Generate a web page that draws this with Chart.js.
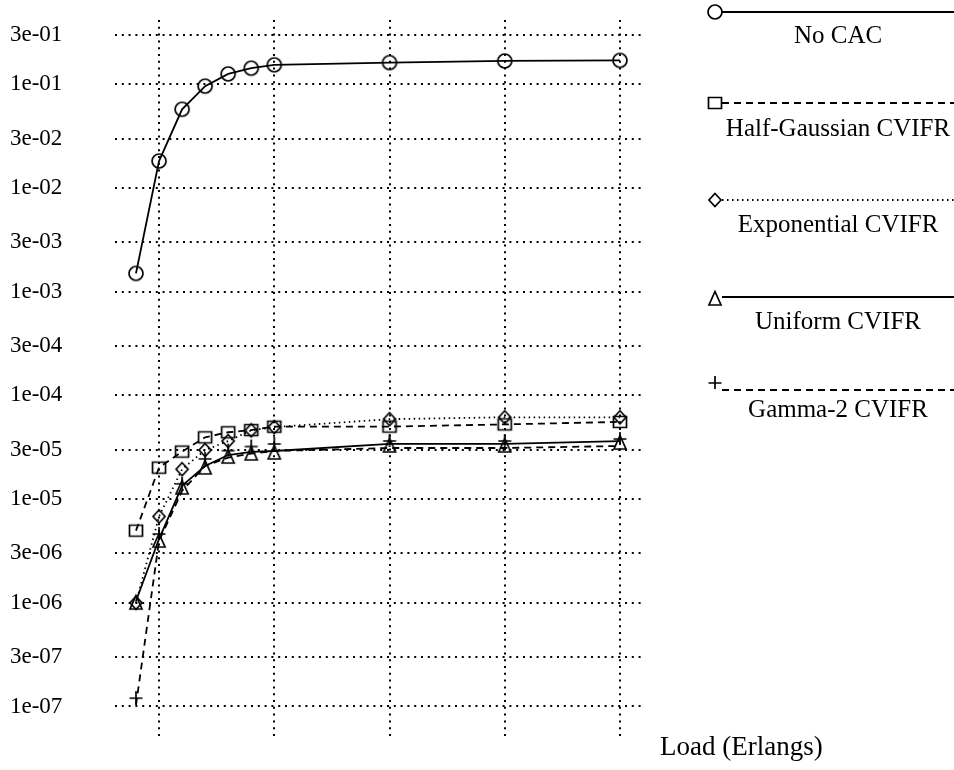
<!DOCTYPE html>
<html>
<head>
<meta charset="utf-8">
<script src="https://cdn.jsdelivr.net/npm/chart.js@4.4.0/dist/chart.umd.min.js"></script>
<style>
  html, body { margin: 0; padding: 0; background: #fff; }
  #wrap { width: 954px; height: 770px; }
</style>
</head>
<body>
<div id="wrap"><canvas id="lossChart" width="954" height="770"></canvas></div>
<script>
// load values (Erlangs) and loss probability per scheme
const loads = [8, 10, 12, 14, 16, 18, 20, 30, 40, 50];
const noCac = [1.5e-3, 1.82e-2, 5.74e-2, 9.6e-2, 0.126, 0.143, 0.154, 0.162, 0.168, 0.17];
const halfGaussian = [4.96e-6, 2.01e-5, 2.87e-5, 3.94e-5, 4.41e-5, 4.63e-5, 4.99e-5, 5.0e-5, 5.25e-5, 5.55e-5];
const exponential = [1.0e-6, 6.8e-6, 1.94e-5, 2.97e-5, 3.63e-5, 4.6e-5, 4.95e-5, 5.9e-5, 6.15e-5, 6.15e-5];
const uniform = [1.04e-6, 4.12e-6, 1.34e-5, 2.09e-5, 2.66e-5, 2.85e-5, 2.91e-5, 3.4e-5, 3.4e-5, 3.63e-5];
const gamma2 = [1.03e-7, 3.94e-6, 1.2e-5, 2.09e-5, 2.51e-5, 2.75e-5, 2.91e-5, 3.11e-5, 3.11e-5, 3.25e-5];

const seriesNames = ["No CAC", "Half-Gaussian CVIFR", "Exponential CVIFR", "Uniform CVIFR", "Gamma-2 CVIFR"];
const yTicks = [1e-7, 3e-7, 1e-6, 3e-6, 1e-5, 3e-5, 1e-4, 3e-4, 1e-3, 3e-3, 1e-2, 3e-2, 1e-1, 3e-1];
const yTickLabels = ["1e-07", "3e-07", "1e-06", "3e-06", "1e-05", "3e-05", "1e-04", "3e-04",
                     "1e-03", "3e-03", "1e-02", "3e-02", "1e-01", "3e-01"];
const xGrid = [10, 20, 30, 40, 50];
const xTitle = "Load (Erlangs)";

const SERIF = "'Liberation Serif', 'DejaVu Serif', serif";

// small hollow markers, drawn on their own canvas
function makeMarker(kind) {
    const c = document.createElement("canvas");
    c.width = 22; c.height = 32;
    const g = c.getContext("2d");
    const cx = 11, cy = 16;
    g.strokeStyle = "#000";
    g.lineWidth = 1.7;
    g.beginPath();
    if (kind === "circle") {
        g.arc(cx, cy, 7, 0, Math.PI * 2);
    } else if (kind === "square") {
        g.rect(cx - 6.5, cy - 5.5, 13, 11);
    } else if (kind === "diamond") {
        g.moveTo(cx, cy - 6.5); g.lineTo(cx + 6, cy); g.lineTo(cx, cy + 6.5); g.lineTo(cx - 6, cy); g.closePath();
    } else if (kind === "triangle") {
        // centroid sits a little below the point, like the original plot
        g.moveTo(cx, cy - 5.5); g.lineTo(cx + 6, cy + 8); g.lineTo(cx - 6, cy + 8); g.closePath();
    } else if (kind === "plus") {
        // drawn above the point, like the original plot
        g.moveTo(cx, cy - 14); g.lineTo(cx, cy - 1);
        g.moveTo(cx - 6.5, cy - 7); g.lineTo(cx + 6.5, cy - 7);
    }
    g.stroke();
    return c;
}

const markers = ["circle", "square", "diamond", "triangle", "plus"].map(makeMarker);
const dashes = [[], [7, 5], [1.5, 3.5], [], [7, 5]];
const seriesData = [noCac, halfGaussian, exponential, uniform, gamma2];

const legendRows = [12, 103, 200, 297, 390];
const legendLabelY = [36, 129, 225, 322, 410];

const sideLegend = {
    id: "sideLegend",
    afterDraw(chart) {
        const ctx = chart.ctx;
        ctx.save();
        seriesNames.forEach((name, i) => {
            const y = legendRows[i];
            ctx.strokeStyle = "#000";
            ctx.lineWidth = 1.8;
            ctx.setLineDash(dashes[i]);
            ctx.beginPath();
            ctx.moveTo(722, y);
            ctx.lineTo(954, y);
            ctx.stroke();
            ctx.setLineDash([]);
            const m = markers[i];
            ctx.drawImage(m, 715 - m.width / 2, y - m.height / 2);
            ctx.fillStyle = "#000";
            ctx.font = "25px " + SERIF;
            ctx.textAlign = "center";
            ctx.textBaseline = "middle";
            ctx.fillText(name, 838, legendLabelY[i]);
        });
        ctx.font = "27px " + SERIF;
        ctx.textAlign = "left";
        ctx.textBaseline = "middle";
        ctx.fillText(xTitle, 660, 748);
        ctx.restore();
    }
};

const ctx = document.getElementById("lossChart").getContext("2d");
const lossChart = new Chart(ctx, {
    type: "line",
    data: {
        datasets: seriesData.map((vals, i) => ({
            label: seriesNames[i],
            data: loads.map((x, j) => ({ x: x, y: vals[j] })),
            borderColor: "#000",
            borderWidth: 1.8,
            borderDash: dashes[i],
            pointStyle: markers[i],
            pointRadius: 7,
            tension: 0,
            fill: false
        }))
    },
    options: {
        responsive: false,
        devicePixelRatio: 1,
        animation: false,
        layout: { padding: { left: 10, top: 20, right: 309, bottom: 30 } },
        plugins: { legend: { display: false }, tooltip: { enabled: false } },
        scales: {
            x: {
                type: "linear",
                min: 6.18,
                max: 52.17,
                afterBuildTicks: s => { s.ticks = xGrid.map(v => ({ value: v })); },
                afterFit: s => { s.height = 0; },
                ticks: { display: false },
                grid: { color: "#000", lineWidth: 2, drawTicks: false },
                border: { display: false, dash: [2, 4.8] }
            },
            y: {
                type: "logarithmic",
                min: 4.75e-8,
                max: 0.417,
                afterBuildTicks: s => { s.ticks = yTicks.map(v => ({ value: v })); },
                afterFit: s => { s.width = 105; },
                ticks: {
                    autoSkip: false,
                    crossAlign: "far",
                    color: "#000",
                    font: { family: SERIF, size: 23 },
                    callback: v => yTickLabels[yTicks.indexOf(v)]
                },
                grid: { color: "#000", lineWidth: 2, drawTicks: false },
                border: { display: false, dash: [2, 4.8] }
            }
        }
    },
    plugins: [sideLegend]
});
</script>
</body>
</html>
